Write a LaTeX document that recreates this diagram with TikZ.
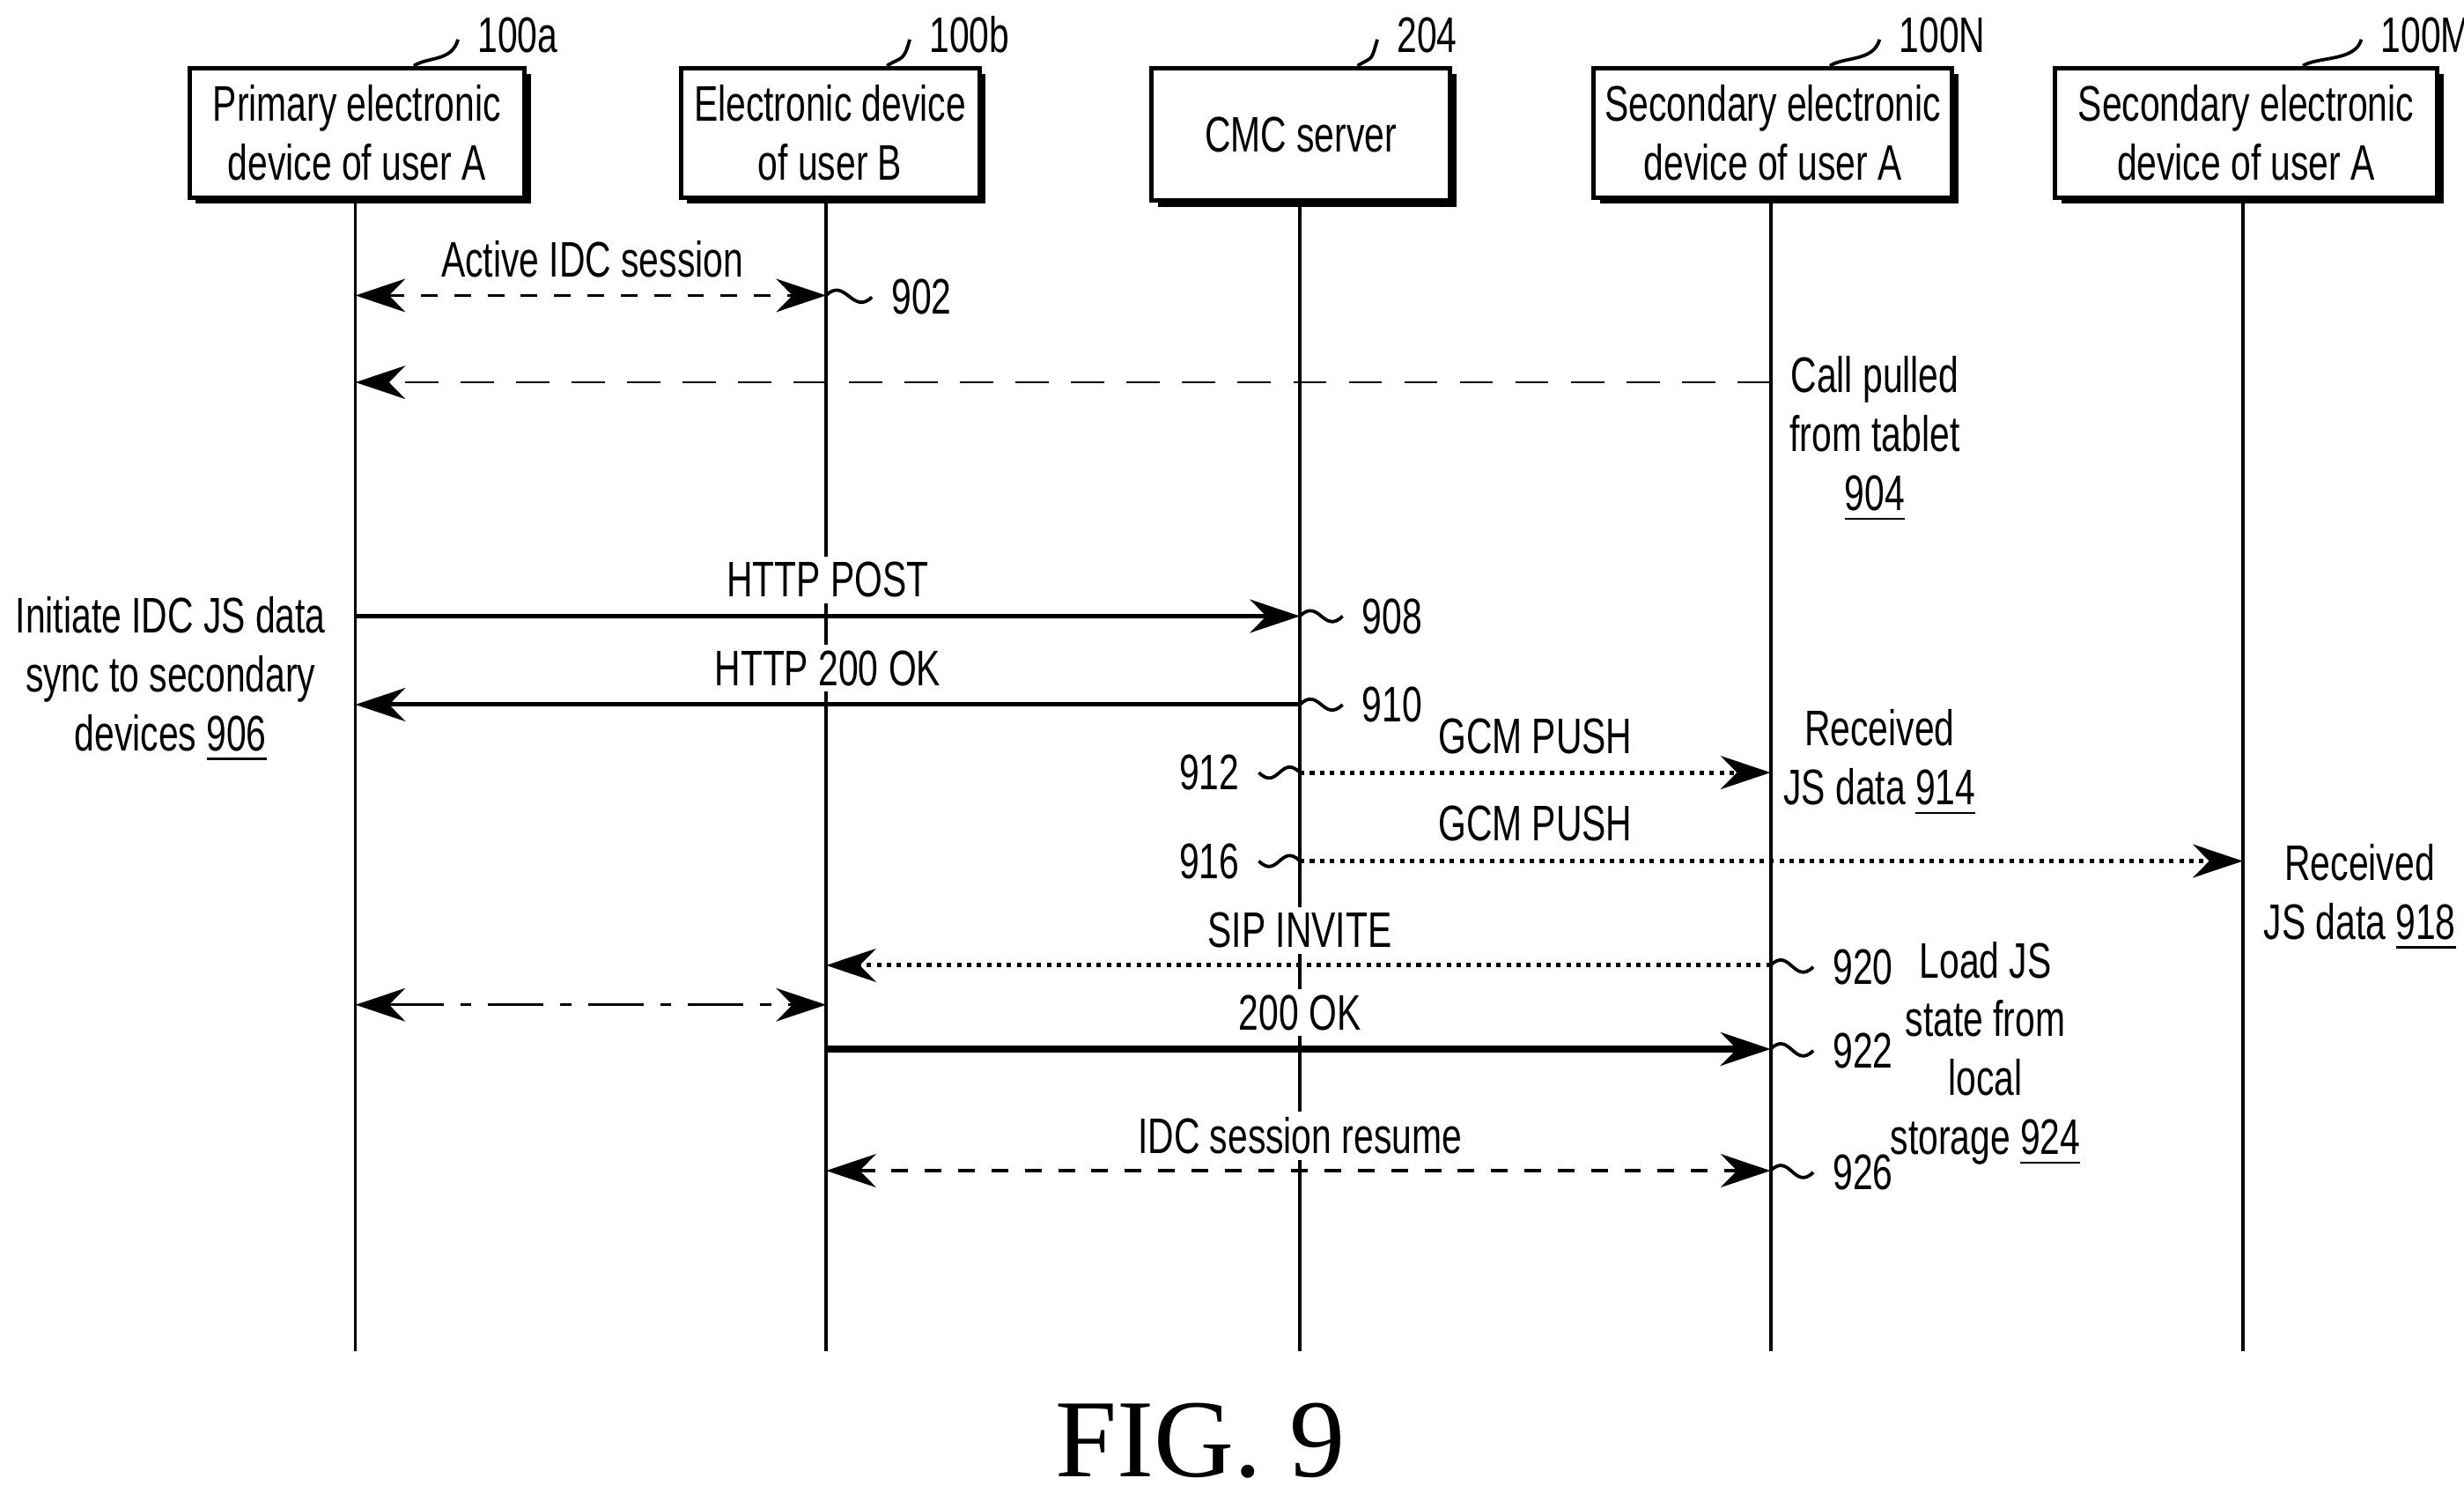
\documentclass[tikz,border=0pt]{standalone}
\usepackage{fontspec}
\setmainfont{Liberation Sans}[FakeStretch=0.72]
\newfontfamily\figfont{Liberation Serif}
\usetikzlibrary{positioning}
\usetikzlibrary{arrows.meta}
\begin{document}
\begin{tikzpicture}[
  x=0.1mm, y=-0.1mm,
  font=\fontsize{9}{10.6}\selectfont,
  box/.style={draw, thick, fill=white, align=center, inner sep=0pt},
  shadow/.style={fill=black},
  life/.style={semithick},
  msg/.style={thick, -{Stealth[length=9pt,width=6pt]}},
  both/.style={semithick, {Stealth[length=9pt,width=6pt]}-{Stealth[length=9pt,width=6pt]}},
  lbl/.style={fill=white, inner sep=1pt},
  note/.style={align=center, inner sep=1pt},
  squig/.style={semithick}
]
\useasboundingbox (0,0) rectangle (1560,945);

% lifeline anchors
\coordinate (pA) at (225,0);
\coordinate (pB) at (523,0);
\coordinate (pC) at (823,0);
\coordinate (pN) at (1121,0);
\coordinate (pM) at (1420,0);

% shadows and boxes
\fill[shadow] (124,47) rectangle (336,129);
\fill[shadow] (435,47) rectangle (624,129);
\fill[shadow] (733,47) rectangle (922,131);
\fill[shadow] (1013,47) rectangle (1240,129);
\fill[shadow] (1305,47) rectangle (1547,129);
\node[box, minimum width=212*0.1mm, minimum height=82*0.1mm] (bA) at (226,84) {Primary electronic\\device of user A};
\node[box, minimum width=189*0.1mm, minimum height=82*0.1mm] (bB) at (525.5,84) {Electronic device\\of user B};
\node[box, minimum width=189*0.1mm, minimum height=84*0.1mm] (bC) at (823.5,85) {CMC server};
\node[box, minimum width=227*0.1mm, minimum height=82*0.1mm] (bN) at (1122.5,84) {Secondary electronic\\device of user A};
\node[box, minimum width=242*0.1mm, minimum height=82*0.1mm] (bM) at (1422,84) {Secondary electronic\\device of user A};

% reference numerals of the boxes
\node[anchor=west] (rA) at (290,22) {100a};
\node[anchor=west] (rB) at (576,22) {100b};
\node[anchor=west] (rC) at (872,22) {204};
\node[anchor=west] (rN) at (1190,22) {100N};
\node[anchor=west] (rM) at (1495,22) {100M};
\foreach \b/\r in {bA/rA, bB/rB, bC/rC, bN/rN, bM/rM}
  \draw[squig] ([xshift=36*0.1mm]\b.north) .. controls +(10,-6) and +(-4,14) .. ([yshift=-3*0.1mm]\r.west);

% lifelines
\foreach \p in {pA, pB, pC, pN, pM}
  \draw[life] (\p |- 0,128) -- (\p |- 0,855);

% 902
\draw[both, dashed] (pA |- 0,187) -- (pB |- 0,187);
\node[lbl] (t902) at (375,164) {Active IDC session};
\node[anchor=west] (n902) at (552,188) {902};

% 904
\draw[msg, thin, dash pattern=on 6pt off 4pt] (pN |- 0,242) -- (pA |- 0,242);
\node[note] (t904) at (1187,278) {Call pulled\\from tablet\\\underline{904}};

% 906
\node[note] (t906) at (108,430) {Initiate IDC JS data\\sync to secondary\\devices \underline{906}};

% 908, 910
\draw[msg] (pA |- 0,390) -- (pC |- 0,390);
\node[lbl] (t908) at (524,367) {HTTP POST};
\node[anchor=west] (n908) at (850,390) {908};
\draw[msg] (pC |- 0,446) -- (pA |- 0,446);
\node[lbl] (t910) at (524,423) {HTTP 200 OK};
\node[anchor=west] (n910) at (850,446) {910};

% 912, 914
\draw[msg, densely dotted] (pC |- 0,489) -- (pN |- 0,489);
\node[lbl] (t912) at (972,466) {GCM PUSH};
\node[anchor=east] (n912) at (797,489) {912};
\node[note] (t914) at (1190,483) {Received\\JS data \underline{914}};

% 916, 918
\draw[msg, densely dotted] (pC |- 0,545) -- (pM |- 0,545);
\node[lbl] (t916) at (972,521) {GCM PUSH};
\node[anchor=east] (n916) at (797,545) {916};
\node[note] (t918) at (1494,568) {Received\\JS data \underline{918}};

% 920
\draw[msg, densely dotted] (pN |- 0,611) -- (pB |- 0,611);
\node[lbl] (t920) at (823,589) {SIP INVITE};
\node[anchor=west] (n920) at (1148,612) {920};

% dash-dot
\draw[both, thin, dash pattern=on 10pt off 3pt on 2pt off 3pt] (pA |- 0,636) -- (pB |- 0,636);

% 922
\draw[msg, very thick] (pB |- 0,664) -- (pN |- 0,664);
\node[lbl] (t922) at (823,641) {200 OK};
\node[anchor=west] (n922) at (1148,665) {922};
\node[note] (t924) at (1257,667) {Load JS\\state from\\local\\storage \underline{924}};

% 926
\draw[both, dashed] (pB |- 0,741) -- (pN |- 0,741);
\node[lbl] (t926) at (823,719) {IDC session resume};
\node[anchor=west] (n926) at (1148,742) {926};

% numeral squiggles
\foreach \p/\n/\y in {pB/n902/187, pC/n908/390, pC/n910/446, pN/n920/611, pN/n922/664, pN/n926/741}
  \draw[squig] (\p |- 0,\y) .. controls +(12,-12) and +(-12,12) .. (\n.west);
\foreach \p/\n/\y in {pC/n912/489, pC/n916/545}
  \draw[squig] (\p |- 0,\y) .. controls +(-12,-12) and +(12,12) .. (\n.east);

% caption
\node[font=\figfont\fontsize{20}{24}\selectfont] (fig) at (760,912) {FIG. 9};
\end{tikzpicture}
\end{document}
